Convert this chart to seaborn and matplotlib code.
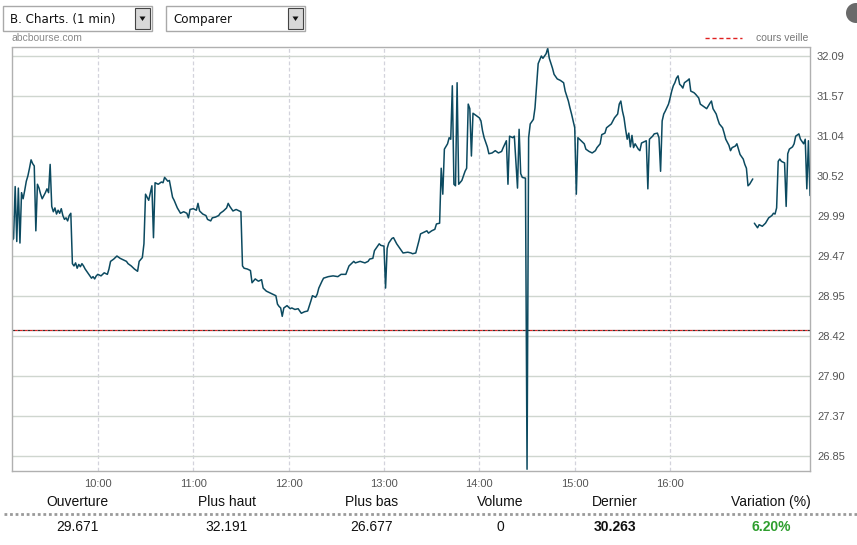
import matplotlib

matplotlib.use("Agg")

import matplotlib.pyplot as plt
import pandas as pd
import seaborn as sns
from matplotlib.patches import Ellipse, Polygon, Rectangle


# intraday quotes, 1 minute
TIMES = [
    "9:06", "9:07", "9:08", "9:09", "9:10", "9:11", "9:12", "9:13", "9:14", "9:15",
    "9:16", "9:17", "9:18", "9:19", "9:20", "9:21", "9:22", "9:23", "9:24", "9:25",
    "9:26", "9:27", "9:28", "9:29", "9:30", "9:31", "9:32", "9:33", "9:34", "9:35",
    "9:36", "9:37", "9:38", "9:39", "9:40", "9:41", "9:42", "9:43", "9:44", "9:45",
    "9:46", "9:47", "9:48", "9:49", "9:50", "9:51", "9:52", "9:53", "9:54", "9:55",
    "9:56", "9:57", "9:58", "9:59", "10:00", "10:02", "10:04", "10:06", "10:07", "10:08",
    "10:10", "10:12", "10:14", "10:16", "10:18", "10:19", "10:21", "10:23", "10:25", "10:26",
    "10:28", "10:29", "10:30", "10:32", "10:34", "10:35", "10:36", "10:38", "10:40", "10:41",
    "10:42", "10:44", "10:45", "10:46", "10:47", "10:48", "10:50", "10:52", "10:54", "10:56",
    "10:57", "10:58", "11:00", "11:02", "11:03", "11:04", "11:06", "11:08", "11:09", "11:11",
    "11:12", "11:14", "11:16", "11:17", "11:19", "11:21", "11:22", "11:23", "11:25", "11:27",
    "11:30", "11:31", "11:32", "11:34", "11:36", "11:37", "11:39", "11:41", "11:43", "11:44",
    "11:46", "11:48", "11:50", "11:52", "11:53", "11:54", "11:55", "11:56", "11:57", "11:59",
    "12:01", "12:02", "12:04", "12:06", "12:08", "12:10", "12:12", "12:14", "12:15", "12:17",
    "12:18", "12:19", "12:21", "12:22", "12:25", "12:28", "12:31", "12:33", "12:36", "12:38",
    "12:41", "12:42", "12:45", "12:48", "12:50", "12:51", "12:53", "12:54", "12:57", "12:58",
    "13:00", "13:01", "13:02", "13:03", "13:05", "13:06", "13:08", "13:11", "13:12", "13:15",
    "13:17", "13:18", "13:20", "13:22", "13:23", "13:25", "13:27", "13:28", "13:30", "13:32",
    "13:33", "13:35", "13:36", "13:37", "13:38", "13:40", "13:41", "13:42", "13:43", "13:44",
    "13:45", "13:46", "13:47", "13:49", "13:51", "13:52", "13:53", "13:54", "13:55", "13:56",
    "13:58", "14:00", "14:01", "14:02", "14:03", "14:05", "14:06", "14:08", "14:10", "14:12",
    "14:14", "14:15", "14:17", "14:18", "14:19", "14:21", "14:22", "14:24", "14:25", "14:26",
    "14:27", "14:29", "14:30", "14:31", "14:32", "14:34", "14:35", "14:37", "14:39", "14:40",
    "14:42", "14:43", "14:44", "14:46", "14:47", "14:49", "14:51", "14:53", "14:54", "14:56",
    "14:57", "14:58", "14:59", "15:00", "15:01", "15:02", "15:04", "15:06", "15:07", "15:09",
    "15:11", "15:13", "15:14", "15:16", "15:17", "15:19", "15:20", "15:23", "15:25", "15:27",
    "15:28", "15:29", "15:30", "15:31", "15:32", "15:33", "15:34", "15:35", "15:36", "15:37",
    "15:38", "15:40", "15:41", "15:42", "15:44", "15:45", "15:46", "15:47", "15:49", "15:50",
    "15:52", "15:53", "15:54", "15:55", "15:56", "15:57", "15:59", "16:00", "16:01", "16:02",
    "16:03", "16:04", "16:05", "16:06", "16:07", "16:08", "16:09", "16:11", "16:12", "16:13",
    "16:15", "16:16", "16:18", "16:19", "16:21", "16:23", "16:25", "16:26", "16:27", "16:29",
    "16:30", "16:31", "16:33", "16:34", "16:35", "16:37", "16:38", "16:39", "16:41", "16:42",
    "16:44", "16:46", "16:47", "16:48", "16:49", "16:50", "16:52",
    "16:53", "16:55", "16:56", "16:58", "17:00", "17:02", "17:04", "17:05", "17:06", "17:07",
    "17:08", "17:09", "17:10", "17:12", "17:13", "17:14", "17:15", "17:17", "17:18", "17:19",
    "17:21", "17:22", "17:24", "17:25", "17:26", "17:27", "17:28",
]

PRICES = [
    29.67, 29.70, 30.38, 29.66, 30.36, 29.64, 30.30, 30.22, 30.33, 30.45,
    30.52, 30.62, 30.73, 30.68, 30.65, 29.80, 30.41, 30.36, 30.28, 30.22,
    30.26, 30.30, 30.35, 30.30, 30.67, 30.12, 30.05, 30.10, 30.02, 30.07,
    30.03, 30.09, 30.00, 29.95, 29.97, 29.93, 30.00, 30.03, 29.37, 29.34,
    29.38, 29.31, 29.36, 29.33, 29.37, 29.34, 29.30, 29.27, 29.24, 29.21,
    29.18, 29.20, 29.17, 29.21, 29.23, 29.21, 29.25, 29.23, 29.30, 29.40,
    29.43, 29.47, 29.44, 29.42, 29.40, 29.37, 29.34, 29.30, 29.27, 29.40,
    29.45, 29.63, 30.28, 30.20, 30.39, 29.71, 30.43, 30.41, 30.44, 30.43,
    30.50, 30.45, 30.46, 30.35, 30.24, 30.20, 30.10, 30.03, 30.05, 30.03,
    29.97, 30.08, 30.09, 30.07, 30.16, 30.06, 30.02, 30.00, 29.95, 29.93,
    29.97, 29.98, 30.00, 30.03, 30.06, 30.10, 30.16, 30.12, 30.06, 30.08,
    30.05, 29.34, 29.31, 29.30, 29.28, 29.12, 29.17, 29.14, 29.16, 29.05,
    29.01, 28.99, 28.97, 28.95, 28.84, 28.81, 28.79, 28.68, 28.79, 28.82,
    28.78, 28.79, 28.77, 28.78, 28.72, 28.74, 28.75, 28.88, 28.95, 28.93,
    28.97, 29.05, 29.14, 29.18, 29.20, 29.21, 29.20, 29.23, 29.23, 29.34,
    29.40, 29.38, 29.40, 29.38, 29.40, 29.43, 29.44, 29.54, 29.63, 29.61,
    29.60, 29.05, 29.57, 29.64, 29.70, 29.71, 29.63, 29.54, 29.51, 29.52,
    29.51, 29.50, 29.51, 29.67, 29.76, 29.78, 29.80, 29.77, 29.80, 29.82,
    29.89, 29.90, 30.62, 30.28, 30.87, 30.94, 31.02, 31.00, 31.70, 30.41,
    30.39, 31.74, 30.41, 30.46, 30.58, 30.62, 31.46, 31.40, 30.78, 31.34,
    31.31, 31.28, 31.24, 31.11, 31.02, 30.90, 30.81, 30.82, 30.85, 30.82,
    30.84, 30.89, 30.98, 30.41, 31.04, 31.02, 31.04, 30.36, 31.13, 30.55,
    30.50, 30.49, 26.677, 31.02, 31.20, 31.26, 31.41, 31.99, 32.09, 32.06,
    32.12, 32.191, 32.06, 31.93, 31.85, 31.79, 31.77, 31.74, 31.63, 31.50,
    31.41, 31.33, 31.24, 31.15, 30.28, 31.02, 30.98, 30.94, 30.87, 30.84,
    30.82, 30.85, 30.89, 30.94, 31.06, 31.08, 31.15, 31.20, 31.28, 31.33,
    31.46, 31.50, 31.37, 31.28, 31.13, 31.00, 31.08, 30.90, 31.05, 30.89,
    30.94, 30.87, 30.85, 30.95, 30.97, 30.98, 30.35, 31.00, 31.04, 31.07,
    31.08, 31.02, 30.58, 31.24, 31.33, 31.37, 31.46, 31.54, 31.63, 31.70,
    31.74, 31.80, 31.83, 31.72, 31.70, 31.67, 31.74, 31.77, 31.79, 31.63,
    31.61, 31.59, 31.54, 31.46, 31.43, 31.40, 31.47, 31.50, 31.40, 31.33,
    31.26, 31.20, 31.15, 31.08, 31.00, 30.92, 30.85, 30.89, 30.91, 30.94,
    30.80, 30.74, 30.67, 30.62, 30.39, 30.41, 30.48,
    29.90, 29.84, 29.88, 29.86, 29.90, 29.97, 30.00, 30.03, 30.02, 30.10,
    30.71, 30.74, 30.71, 30.69, 30.12, 30.81, 30.87, 30.90, 30.94, 31.04,
    31.07, 31.00, 30.94, 31.00, 30.35, 30.98, 30.263,
]

BREAK_AFTER = "16:52"   # the line is interrupted after this minute
PREV_CLOSE = 28.496     # cours veille

Y_TICKS = [26.85, 27.37, 27.90, 28.42, 28.95, 29.47, 29.99, 30.52, 31.04, 31.57, 32.09]
X_TICK_LABELS = ["10:00", "11:00", "12:00", "13:00", "14:00", "15:00", "16:00"]

STAT_NAMES = ["Ouverture", "Plus haut", "Plus bas", "Volume", "Dernier", "Variation (%)"]
STAT_VALUES = ["29.671", "32.191", "26.677", "0", "30.263", "6.20%"]

W, H = 857, 545
LINE_COLOR = "#0c4a60"
GRAY_TEXT = "#555555"


def to_minutes(labels):
    t = pd.to_datetime(pd.Series(labels), format="%H:%M")
    return (t.dt.hour - 9) * 60 + t.dt.minute


def fx(x):
    return x / W


def fy(y):
    return 1 - y / H


def draw_dropdown(fig, x0, x1, label):
    fig.add_artist(Rectangle((fx(x0), fy(31)), fx(x1 - x0), 25 / H, transform=fig.transFigure,
                             facecolor="white", edgecolor="#a9a9a9", lw=1))
    bx = x1 - 17
    fig.add_artist(Rectangle((fx(bx), fy(29)), fx(15), 21 / H, transform=fig.transFigure,
                             facecolor="#d8d8d8", edgecolor="#444444", lw=0.8))
    fig.add_artist(Polygon([(fx(bx + 4.5), fy(16.5)), (fx(bx + 10.5), fy(16.5)), (fx(bx + 7.5), fy(21))],
                           closed=True, transform=fig.transFigure, facecolor="#111111", edgecolor="none"))
    fig.text(fx(x0 + 7), fy(19), label, fontsize=8.6, family="DejaVu Sans",
             color="#111111", va="center", ha="left")


def main() -> None:
    df = pd.DataFrame({"time": TIMES, "price": PRICES})
    df["minute"] = to_minutes(df["time"]).values
    df["segment"] = (df["minute"] > to_minutes([BREAK_AFTER])[0]).astype(int)

    sns.set_style("white")
    plt.rcParams["font.family"] = ["Liberation Sans", "DejaVu Sans"]

    fig = plt.figure(figsize=(W / 100, H / 100), dpi=100)
    ax = fig.add_axes([fx(12), fy(471), fx(798), 424 / H])

    sns.lineplot(data=df, x="minute", y="price", units="segment", estimator=None,
                 color=LINE_COLOR, lw=1.1, ax=ax, legend=False)

    # cours veille: red / dark dashed mix
    ax.axhline(PREV_CLOSE, color="#333333", lw=0.9, ls=(0, (2, 2)), zorder=1)
    ax.axhline(PREV_CLOSE, color="#dd2222", lw=0.9, ls=(2, (2, 2)), zorder=1)

    ax.set_xlim(df["minute"].iloc[0], df["minute"].iloc[-1])
    ax.set_ylim(26.654, 32.208)

    ax.set_yticks(Y_TICKS)
    ax.set_yticklabels([f"{v:.2f}" for v in Y_TICKS])
    ax.yaxis.tick_right()
    ax.set_xticks(to_minutes(X_TICK_LABELS).values)
    ax.set_xticklabels(X_TICK_LABELS)
    ax.tick_params(axis="both", length=0, labelsize=8, labelcolor=GRAY_TEXT)
    ax.tick_params(axis="y", pad=5)
    ax.tick_params(axis="x", pad=6)
    ax.set_xlabel("")
    ax.set_ylabel("")

    ax.grid(axis="y", color="#cfd6cf", lw=1, ls="-")
    ax.grid(axis="x", color="#d3d3dc", lw=0.9, ls=(0, (3, 2)))
    ax.set_axisbelow(True)
    for side in ax.spines.values():
        side.set_visible(True)
        side.set_color("#b0b0b0")
        side.set_linestyle((0, (1, 1)))
        side.set_linewidth(1)

    # header widgets
    draw_dropdown(fig, 3, 152, "B. Charts. (1 min)")
    draw_dropdown(fig, 166, 305, "Comparer")
    fig.add_artist(Ellipse((fx(856), fy(13)), 20 / W, 20 / H, transform=fig.transFigure,
                           facecolor="#6a6a6a", edgecolor="none"))
    fig.text(fx(12), fy(38), "abcbourse.com", fontsize=7.5, color="#8a8a8a", va="center")

    fig.add_artist(plt.Line2D([fx(705), fx(742)], [fy(38), fy(38)], transform=fig.transFigure,
                              color="#e02020", lw=1, ls=(0, (3, 2))))
    fig.text(fx(756), fy(38), "cours veille", fontsize=7.5, color="#777777", va="center")

    # summary table
    centers = [77, 227, 372, 500, 615, 771]
    for cx, name, value in zip(centers, STAT_NAMES, STAT_VALUES):
        fig.text(fx(cx), fy(502), name, fontsize=10, color="#111111",
                 ha="center", va="center")
        weight = "bold" if name in ("Dernier", "Variation (%)") else "normal"
        color = "#2e9e2e" if name == "Variation (%)" else "#111111"
        fig.text(fx(cx), fy(527), value, fontsize=10, color=color,
                 weight=weight, ha="center", va="center")
    fig.add_artist(plt.Line2D([fx(4), fx(857)], [fy(514), fy(514)], transform=fig.transFigure,
                              color="#9a9a9a", lw=2, ls=(0, (1, 1))))

    fig.savefig("out.png", dpi=100)
    plt.close(fig)


if __name__ == "__main__":
    main()
